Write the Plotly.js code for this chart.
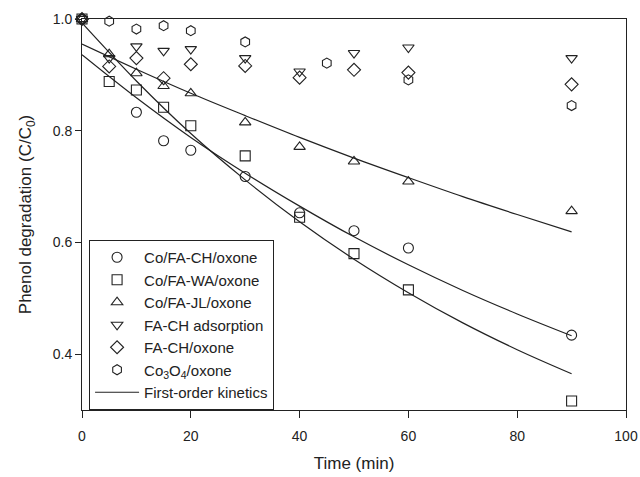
<!DOCTYPE html>
<html>
<head>
<meta charset="utf-8">
<script src="https://cdn.plot.ly/plotly-3.0.1.min.js"></script>
<style>html,body{margin:0;padding:0;background:#fff;}#chart{width:640px;height:477px;}</style>
</head>
<body>
<div id="chart"></div>
<script>
// Measured data
const timeA = [0, 5, 10, 15, 20, 30, 40, 50, 60, 90];
const coFaCh = [1.0, null, 0.833, 0.782, 0.765, 0.718, 0.653, 0.621, 0.590, 0.434];
const coFaWa = [1.0, 0.888, 0.873, 0.842, 0.809, 0.755, 0.645, 0.580, 0.515, 0.316];
const coFaJl = [1.0, 0.937, 0.903, 0.880, 0.867, 0.815, 0.771, 0.745, 0.709, 0.656];
const faChAds = [1.0, 0.930, 0.951, 0.943, 0.946, 0.930, 0.906, 0.939, 0.949, 0.930];
const faChOx = [1.0, 0.915, 0.930, 0.894, 0.919, 0.916, 0.895, 0.909, 0.904, 0.883];
const timeCo3o4 = [0, 5, 10, 15, 20, 30, 45, 60, 90];
const co3o4 = [1.0, 0.996, 0.982, 0.988, 0.979, 0.959, 0.921, 0.891, 0.845];

// First-order kinetics curves
const fitTime = [0, 10, 20, 30, 40, 50, 60, 70, 80, 90];
const fitCoFaCh = [0.936, 0.859, 0.788, 0.724, 0.665, 0.610, 0.560, 0.514, 0.472, 0.433];
const fitCoFaWa = [0.993, 0.889, 0.795, 0.712, 0.637, 0.570, 0.510, 0.456, 0.408, 0.365];
const fitCoFaJl = [0.955, 0.910, 0.867, 0.827, 0.788, 0.751, 0.716, 0.682, 0.650, 0.619];

const names = ['Co/FA-CH/oxone', 'Co/FA-WA/oxone', 'Co/FA-JL/oxone', 'FA-CH adsorption', 'FA-CH/oxone', 'Co<sub>3</sub>O<sub>4</sub>/oxone'];
const symbols = ['circle-open', 'square-open', 'triangle-up-open', 'triangle-down-open', 'diamond-open', 'hexagon-open'];
const seriesX = [timeA, timeA, timeA, timeA, timeA, timeCo3o4];
const seriesY = [coFaCh, coFaWa, coFaJl, faChAds, faChOx, co3o4];

const ink = '#222';
const traces = [];
for (let i = 0; i < names.length; i++) {
  traces.push({
    x: seriesX[i], y: seriesY[i], name: names[i], type: 'scatter', mode: 'markers',
    cliponaxis: false,
    marker: {symbol: symbols[i], size: 10, color: ink, line: {color: ink, width: 1.1}}
  });
}
const fits = [fitCoFaCh, fitCoFaWa, fitCoFaJl];
for (let j = 0; j < fits.length; j++) {
  traces.push({
    x: fitTime, y: fits[j], type: 'scatter', mode: 'lines', name: 'First-order kinetics',
    showlegend: j === 0, line: {color: ink, width: 1.2, shape: 'spline'}
  });
}

const layout = {
  width: 640, height: 477,
  margin: {l: 82, r: 14, t: 19, b: 67},
  paper_bgcolor: '#fff', plot_bgcolor: '#fff',
  font: {family: 'Liberation Sans, Arial, sans-serif', size: 14, color: ink},
  showlegend: true,
  legend: {
    x: 0.013, y: 0, xanchor: 'left', yanchor: 'bottom',
    bordercolor: ink, borderwidth: 1, bgcolor: '#fff',
    font: {size: 15, color: ink}, tracegroupgap: 0, itemwidth: 44
  },
  xaxis: {
    range: [0, 100], tickvals: [0, 20, 40, 60, 80, 100],
    ticks: 'outside', ticklen: 7, tickcolor: ink, showgrid: false, zeroline: false,
    ticklabelstandoff: 6,
    showline: true, linecolor: ink, linewidth: 1, mirror: true,
    title: {text: 'Time (min)', font: {size: 17}, standoff: 14}
  },
  yaxis: {
    range: [0.3, 1.0], tickvals: [0.4, 0.6, 0.8, 1.0], ticktext: ['0.4', '0.6', '0.8', '1.0'],
    ticks: 'outside', ticklen: 6, tickcolor: ink, showgrid: false, zeroline: false,
    showline: true, linecolor: ink, linewidth: 1, mirror: true,
    title: {text: 'Phenol degradation (C/C<sub>0</sub>)', font: {size: 17}, standoff: 16}
  }
};
Plotly.newPlot('chart', traces, layout, {staticPlot: true, displayModeBar: false});
</script>
</body>
</html>
